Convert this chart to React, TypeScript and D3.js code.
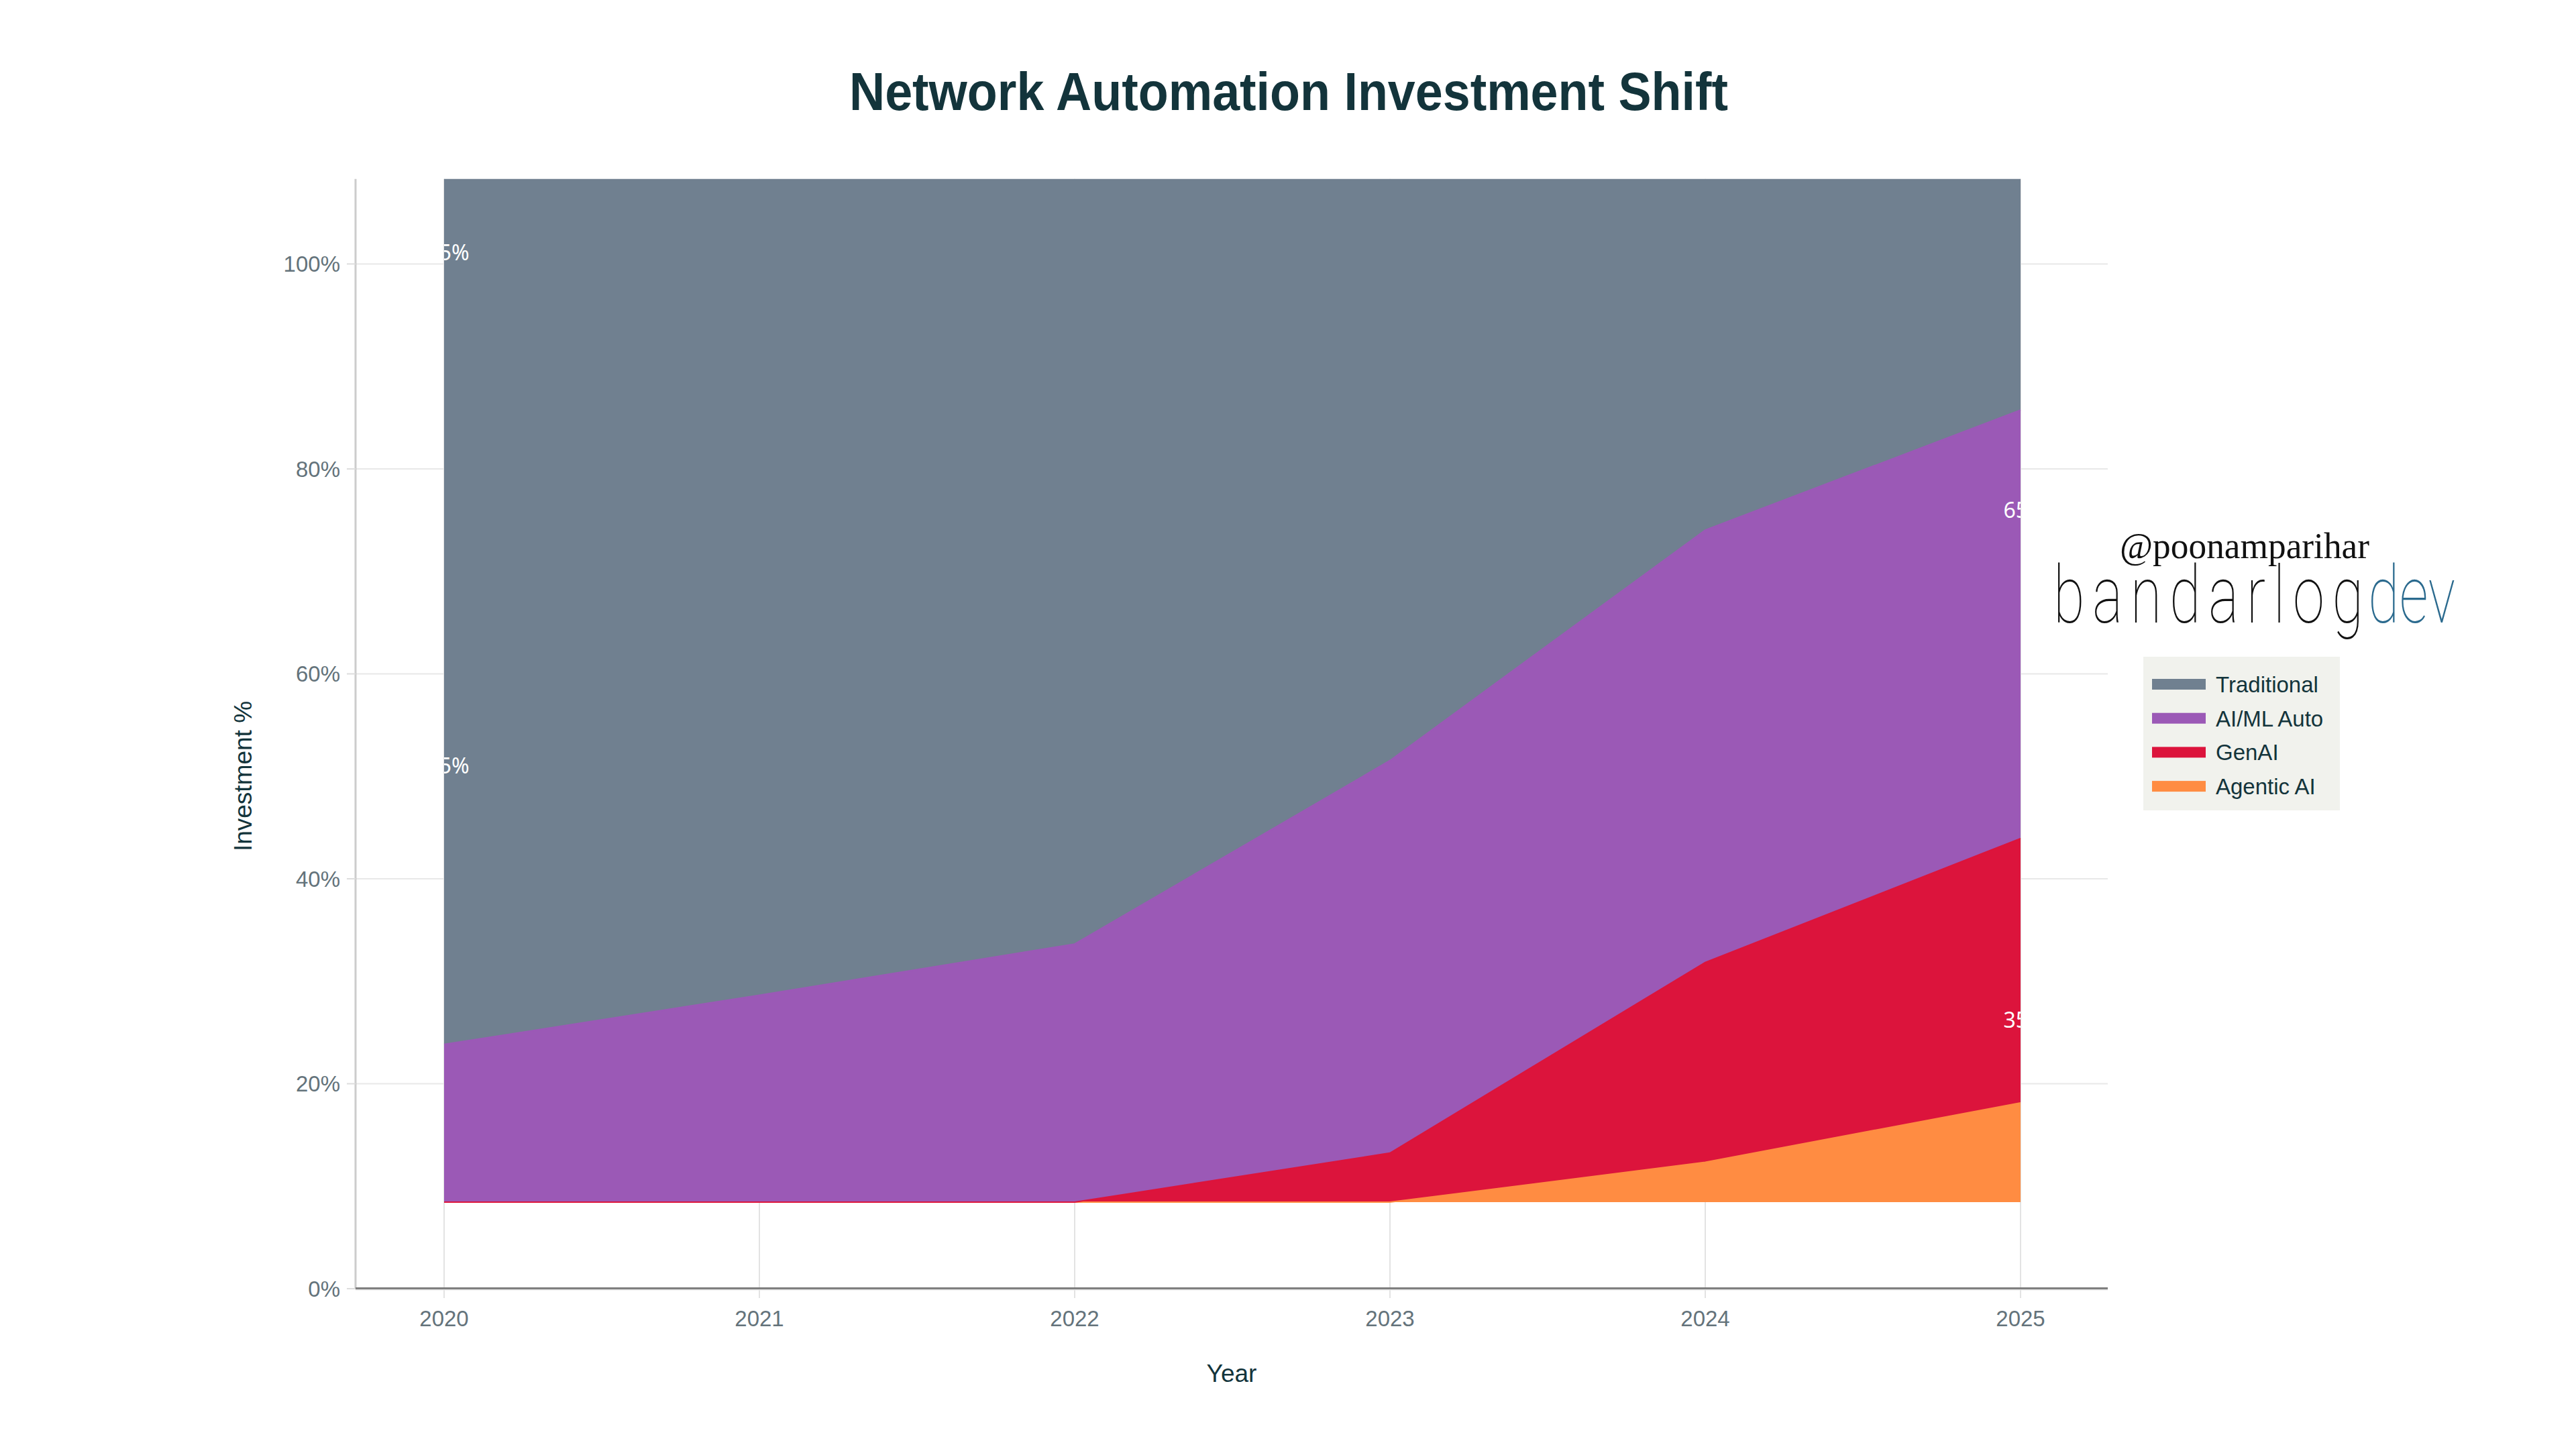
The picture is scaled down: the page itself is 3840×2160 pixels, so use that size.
import React from "react";
import * as d3 from "d3";

const years = [2020, 2021, 2022, 2023, 2024, 2025];
const seriesNames = ["Agentic AI", "GenAI", "AI/ML Auto", "Traditional"];
const agentic = [0, 0, 0, 0, 3.9, 9.7];
const genAI = [0, 0, 0, 4.8, 19.5, 25.8];
const aiml = [15.4, 20.2, 25.2, 38.3, 42.2, 41.8];
const traditional = [85, 80, 75, 60, 45, 35];
const stackBase = 8.44;
const seriesColors = ["#FF8C42", "#DC143C", "#9B59B6", "#708090"];
const legendOrder = ["Traditional", "AI/ML Auto", "GenAI", "Agentic AI"];
const yTicks = [0, 20, 40, 60, 80, 100];
const labelYears = [2020, 2020, 2025, 2025];
const labelTexts = ["85%", "15%", "65%", "35%"];
const labelValues = [101.1, 51.0, 76.0, 26.2];

const W = 3840;
const H = 2160;
const plotLeft = 530;
const plotRight = 3142;
const plotTop = 266.7;
const plotBottom = 1921;

const FONT = "'Liberation Sans', Arial, sans-serif";
const DARK = "#13343B";
const TICK = "#64737b";

export default function App() {
  const x = d3.scaleLinear().domain([2020, 2025]).range([662, 3012]);
  const y = d3.scaleLinear().domain([0, 108.3]).range([plotBottom, plotTop]);

  const rows = years.map((yr, i) => ({
    year: yr,
    "Agentic AI": agentic[i],
    GenAI: genAI[i],
    "AI/ML Auto": aiml[i],
    Traditional: traditional[i],
  }));

  const stack = d3
    .stack<any>()
    .keys(seriesNames)
    .offset((series: any, order: any) => {
      d3.stackOffsetNone(series, order);
      for (const s of series) for (const p of s) { p[0] += stackBase; p[1] += stackBase; }
    });
  const stacked = stack(rows);

  const area = d3
    .area<any>()
    .x((d) => x(d.data.year))
    .y0((d) => y(d[0]))
    .y1((d) => y(d[1]));
  const topLine = d3
    .line<any>()
    .x((d) => x(d.data.year))
    .y((d) => y(d[1]));

  const colorOf = (name: string) => seriesColors[seriesNames.indexOf(name)];
  const sx = 0.72;

  return (
    <svg
      width={W}
      height={H}
      style={{ position: "fixed", left: 0, top: 0, background: "#fff" }}
    >
      <defs>
        <clipPath id="plotClip">
          <rect x={plotLeft} y={plotTop} width={plotRight - plotLeft} height={plotBottom - plotTop} />
        </clipPath>
        <clipPath id="labelClip">
          <rect x={x(2020)} y={plotTop} width={x(2025) - x(2020)} height={plotBottom - plotTop} />
        </clipPath>
      </defs>
      <rect width={W} height={H} fill="#fff" />

      {/* gridlines */}
      {yTicks.filter((t) => t > 0).map((t) => (
        <line key={"gy" + t} x1={plotLeft} x2={plotRight} y1={y(t)} y2={y(t)} stroke="#e8e8e8" strokeWidth={2} />
      ))}
      {years.map((yr) => (
        <line key={"gx" + yr} x1={x(yr)} x2={x(yr)} y1={plotTop} y2={plotBottom + 14} stroke="#e3e3e3" strokeWidth={2} />
      ))}

      {/* areas */}
      <g clipPath="url(#plotClip)">
        {stacked.map((s: any) => (
          <path key={s.key} d={area(s) || ""} fill={colorOf(s.key)} />
        ))}
        {stacked.map((s: any) => (
          <path key={"l" + s.key} d={topLine(s) || ""} fill="none" stroke={colorOf(s.key)} strokeWidth={2} />
        ))}
      </g>

      {/* value labels */}
      <g clipPath="url(#labelClip)">
        {labelTexts.map((t, i) => (
          <text
            key={"lab" + i}
            x={x(labelYears[i]) + 6}
            y={y(labelValues[i])}
            dy="0.36em"
            textAnchor="middle"
            fontFamily="'Noto Sans', sans-serif"
            fontSize={32}
            fill="#ffffff"
          >
            {t}
          </text>
        ))}
      </g>

      {/* axes */}
      <line x1={plotLeft} x2={plotLeft} y1={plotTop} y2={plotBottom} stroke="#cccccc" strokeWidth={3} />
      <line x1={plotLeft} x2={plotRight} y1={plotBottom + 1.5} y2={plotBottom + 1.5} stroke="#e3e3e3" strokeWidth={2} />
      <line x1={plotLeft} x2={plotRight} y1={plotBottom - 0.5} y2={plotBottom - 0.5} stroke="#7f7f7f" strokeWidth={3} />

      {yTicks.map((t) => (
        <g key={"ty" + t}>
          <line x1={plotLeft - 13} x2={plotLeft} y1={y(t)} y2={y(t)} stroke="#dddddd" strokeWidth={2} />
          <text x={507} y={y(t)} dy="0.36em" textAnchor="end" fontFamily={FONT} fontSize={33} fill={TICK}>
            {t + "%"}
          </text>
        </g>
      ))}
      {years.map((yr) => (
        <text key={"tx" + yr} x={x(yr)} y={1977} textAnchor="middle" fontFamily={FONT} fontSize={33} fill={TICK}>
          {yr}
        </text>
      ))}

      {/* axis titles */}
      <text x={(plotLeft + plotRight) / 2} y={2060} textAnchor="middle" fontFamily={FONT} fontSize={37} fill={DARK}>
        Year
      </text>
      <text
        transform={`translate(375, 1157) rotate(-90)`}
        textAnchor="middle"
        fontFamily={FONT}
        fontSize={37}
        fill={DARK}
      >
        Investment %
      </text>

      {/* title */}
      <text
        x={1921}
        y={164}
        textAnchor="middle"
        fontFamily={FONT}
        fontWeight="bold"
        fontSize={80}
        fill={DARK}
        textLength={1310}
        lengthAdjust="spacingAndGlyphs"
      >
        Network Automation Investment Shift
      </text>

      {/* watermark */}
      <text
        x={3160}
        y={832}
        fontFamily="cursive"
        fontSize={54}
        fill="#111"
        textLength={372}
        lengthAdjust="spacingAndGlyphs"
      >
        @poonamparihar
      </text>
      <g transform={`translate(3061, 928) scale(${sx}, 1)`}>
        <text
          x={0}
          y={0}
          fontFamily="Roboto, 'Noto Sans', sans-serif"
          fontWeight={100}
          fontSize={118}
          fill="#111"
          textLength={462 / sx}
          lengthAdjust="spacing"
        >
          bandarlog
        </text>
        <text
          x={(3530 - 3061) / sx}
          y={0}
          fontFamily="Roboto, 'Noto Sans', sans-serif"
          fontWeight={100}
          fontSize={118}
          fill="#2b6a8e"
          textLength={130 / sx}
          lengthAdjust="spacing"
        >
          dev
        </text>
      </g>

      {/* legend */}
      <rect x={3195} y={979} width={293} height={229} fill="#f1f2ed" />
      {legendOrder.map((name, i) => (
        <g key={"lg" + name}>
          <rect x={3208} y={1012 + i * 50.7} width={80} height={16} fill={colorOf(name)} />
          <text x={3303} y={1020 + i * 50.7} dy="0.36em" fontFamily={FONT} fontSize={33} fill={DARK}>
            {name}
          </text>
        </g>
      ))}
    </svg>
  );
}
